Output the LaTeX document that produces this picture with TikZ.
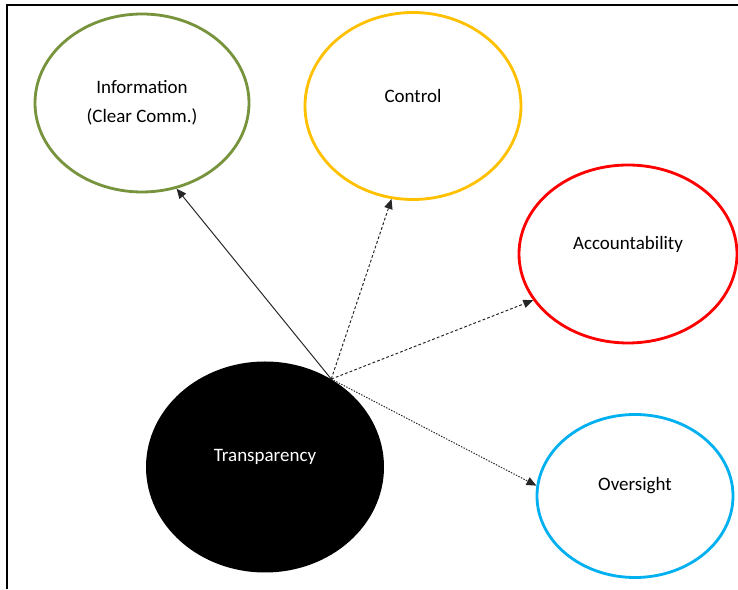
\documentclass[tikz,border=0pt]{standalone}
\usepackage{fontspec}
\setmainfont{Carlito}
\definecolor{trgreen}{RGB}{119,147,60}
\definecolor{tryellow}{RGB}{255,192,0}
\definecolor{trred}{RGB}{255,0,0}
\definecolor{trblue}{RGB}{0,176,240}
\usetikzlibrary{arrows.meta,positioning,shapes.geometric,calc}
\tikzset{
  ring/.style={ellipse, draw, line width=2pt, fill=white},
  lbl/.style={font=\fontsize{13.5}{20.5}\selectfont, align=center, inner sep=0pt},
  link/.style={-{Triangle[length=7pt,width=6pt]}, line width=0.7pt, draw=black!85}
}

\begin{document}
\begin{tikzpicture}
  \useasboundingbox (0,0) rectangle (18.45,14.725);
  % Frame
  \draw[line width=1.8pt] (0.175,0) -- (0.175,14.6) -- (18.45,14.6);

  % Outer ellipses
  \node[ring, draw=trgreen, minimum width=5.35cm, minimum height=4.45cm] (info) at (3.55,12.15) {};
  \node[ring, draw=tryellow, minimum width=5.4cm, minimum height=4.675cm] (ctrl) at (10.325,12.075) {};
  \node[ring, draw=trred, minimum width=5.45cm, minimum height=4.45cm] (acc) at (15.7,8.375) {};
  \node[ring, draw=trblue, minimum width=4.9cm, minimum height=4.075cm] (over) at (15.875,2.325) {};

  % Central ellipse
  \node[ellipse, fill=black, minimum width=5.95cm, minimum height=5.275cm] (trans) at (6.625,3.05) {};

  % Labels
  \node[lbl] (infotext) at (info.center) {Information\\(Clear Comm.)};
  \node[lbl] (ctrltext) at ([yshift=0.25cm]ctrl.center) {Control};
  \node[lbl] (acctext) at ([yshift=0.25cm]acc.center) {Accountability};
  \node[lbl] (overtext) at ([yshift=0.25cm]over.center) {Oversight};
  \node[lbl, text=white] (transtext) at ([yshift=0.25cm]trans.center) {Transparency};

  % Arrows
  \coordinate (hub) at (trans.53);
  \draw[link] (hub) -- (info.-68);
  \draw[link, dash pattern=on 2pt off 1.5pt] (hub) -- (ctrl.-103);
  \draw[link, dash pattern=on 2pt off 1.5pt] (hub) -- (acc.206);
  \draw[link, dash pattern=on 1pt off 1pt] (hub) -- (over.174);
\end{tikzpicture}
\end{document}
